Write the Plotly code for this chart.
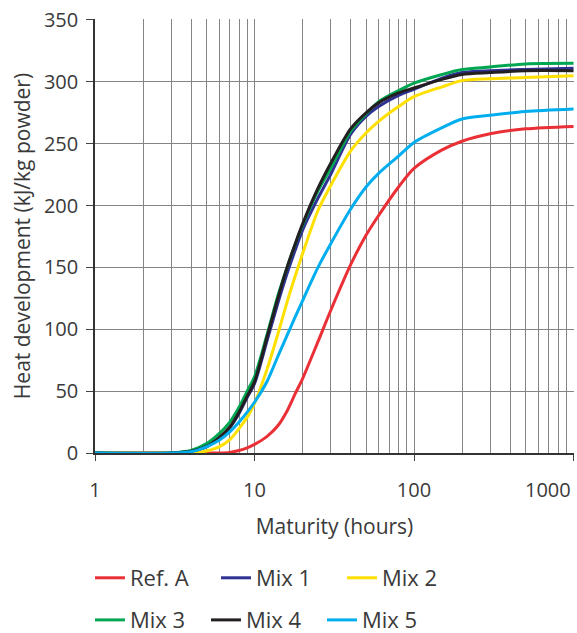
import plotly.graph_objects as go

# Maturity (hours)
hours = [1, 3, 4, 5, 6, 7, 8, 9, 10, 12, 14, 16, 18, 20, 25, 30, 40, 50, 60, 80, 100, 150, 200, 300, 500, 1000]

# Heat development (kJ/kg powder)
ref_a = [0, 0, 0, 0, 0, 0.5, 2, 4.2, 7, 13.5, 22, 34, 48, 60, 90, 115, 152, 176, 192, 215, 230, 245, 252, 258, 262, 264]
mix_1 = [0, 0, 1.5, 5, 12, 20.5, 32, 45, 56, 91, 121, 145, 164, 180, 206, 225, 257.5, 272, 280, 289, 294, 303, 307.5, 309, 310, 311]
mix_2 = [0, 0, 0, 1.6, 4.9, 10.8, 19.7, 29, 40, 68, 96, 122, 143, 161, 196, 216, 244, 258.6, 268, 280, 288, 296, 301, 302.5, 303.5, 305]
mix_3 = [0, 0, 2, 7.6, 15.7, 25, 37, 50, 61.6, 96, 127, 150, 169, 184, 212, 230, 260, 274, 284, 293, 299, 306, 310, 312, 314.5, 315]
mix_4 = [0, 0, 1.5, 5.4, 12.5, 21, 33, 46, 57.5, 94, 125, 150, 169, 185, 214, 234, 262, 275, 283, 291, 295, 302, 306, 307.5, 309, 309]
mix_5 = [0, 0, 1, 5, 10.3, 17, 25, 33, 41, 58, 78, 95, 110, 123, 150, 169, 197, 215, 226, 240, 251, 263, 270, 273, 276, 278]

series_names = ["Ref. A", "Mix 1", "Mix 2", "Mix 3", "Mix 4", "Mix 5"]
series_values = [ref_a, mix_1, mix_2, mix_3, mix_4, mix_5]
series_colors = ["#ea2f36", "#2e3192", "#ffe000", "#00a651", "#231f20", "#00aeef"]
series_legend = ["legend", "legend", "legend", "legend2", "legend2", "legend2"]

x_major = [1, 10, 100, 1000]
x_major_text = ["1", "10", "100", ""]
x_last_label = "1000"
x_minor = [m * d for d in (1, 10, 100) for m in range(2, 10)]
y_ticks = [0, 50, 100, 150, 200, 250, 300, 350]

FONT = "Open Sans"
TXT = "#3a3a3a"
GRID = "#858585"

fig = go.Figure()
for name, vals, col, lg in zip(series_names, series_values, series_colors, series_legend):
    fig.add_trace(go.Scatter(
        x=hours, y=vals, mode="lines", name=name,
        line=dict(color=col, width=3, shape="spline", smoothing=0.8),
        legend=lg,
    ))

# last x tick label, kept inside the figure (as in the original)
fig.add_annotation(
    x=3.0, xref="x", y=-0.085, yref="paper", text=x_last_label,
    showarrow=False, xanchor="right", yanchor="middle", xshift=-1,
    font=dict(family=FONT, size=20, color=TXT),
)

fig.update_layout(
    width=577, height=633,
    margin=dict(l=95, r=3, t=19, b=180, autoexpand=False),
    paper_bgcolor="white", plot_bgcolor="white",
    font=dict(family=FONT, size=20, color=TXT),
    xaxis=dict(
        type="log", range=[0, 3.003],
        tickmode="array", tickvals=x_major, ticktext=x_major_text,
        ticks="outside", ticklen=6, tickcolor="#444", tickwidth=1,
        ticklabelstandoff=12, ticklabeloverflow="allow",
        showgrid=True, gridcolor=GRID, gridwidth=1,
        minor=dict(tickmode="array", tickvals=x_minor, showgrid=True, gridcolor=GRID, gridwidth=1, ticks=""),
        showline=True, linecolor="#333", linewidth=1.5,
        title=dict(text="Maturity (hours)", standoff=18, font=dict(size=21)),
        zeroline=False, automargin=False,
    ),
    yaxis=dict(
        range=[0, 350.8], tickmode="array", tickvals=y_ticks,
        ticks="outside", ticklen=7, tickcolor="#444", tickwidth=1,
        ticklabelstandoff=4, ticklabeloverflow="allow",
        showgrid=True, gridcolor=GRID, gridwidth=1,
        showline=True, linecolor="#333", linewidth=1.5,
        title=dict(text="Heat development (kJ/kg powder)", standoff=8, font=dict(size=21)),
        zeroline=False, automargin=False,
    ),
    legend=dict(orientation="h", x=-0.0105, xanchor="left", y=-0.288, yanchor="middle",
                entrywidth=81, entrywidthmode="pixels", font=dict(size=22),
                bgcolor="rgba(0,0,0,0)", tracegroupgap=0),
    legend2=dict(orientation="h", x=-0.0105, xanchor="left", y=-0.385, yanchor="middle",
                 entrywidth=71, entrywidthmode="pixels", font=dict(size=22),
                 bgcolor="rgba(0,0,0,0)", tracegroupgap=0),
)

fig.write_html(
    "out.html",
    config={"displayModeBar": False},
    post_script="document.body.style.margin='0';document.body.style.overflow='hidden';",
)
